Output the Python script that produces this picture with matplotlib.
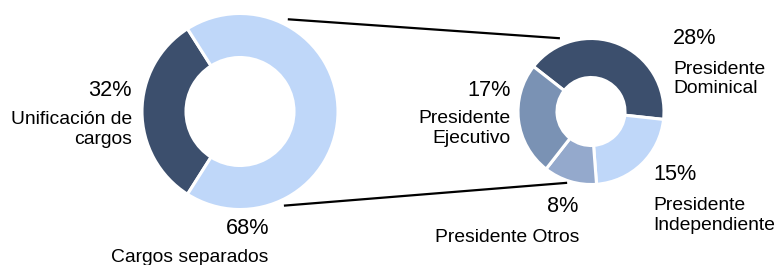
import numpy as np
import matplotlib
matplotlib.use("Agg")
import matplotlib.pyplot as plt

# ---- data ----
main_labels = ["Unificación de\ncargos", "Cargos separados"]
main_values = [32, 68]
main_colors = ["#3c4f6d", "#bfd7f9"]

sub_labels = ["Presidente\nDominical", "Presidente\nIndependiente", "Presidente Otros", "Presidente\nEjecutivo"]
sub_values = [28, 15, 8, 17]
sub_colors = ["#3c4f6d", "#bfd7f9", "#94a9cc", "#7a92b4"]

W, H = 777, 265
fig = plt.figure(figsize=(W / 100, H / 100), dpi=100)
ax = fig.add_axes([0, 0, 1, 1])
ax.set_xlim(0, W)
ax.set_ylim(0, H)
ax.set_aspect("equal")
ax.axis("off")

FONT = "Liberation Sans"

def Y(y):
    return H - y

# left donut
c1 = (240, Y(111.5))
r1 = 98
ax.pie(main_values, colors=main_colors, startangle=180 - main_values[0] * 1.8,
       counterclock=True, center=c1, radius=r1,
       wedgeprops=dict(width=44, edgecolor="white", linewidth=2.2))

# right donut
c2 = (591, Y(111.5))
r2 = 73
ax.pie(sub_values, colors=sub_colors, startangle=142, counterclock=False,
       center=c2, radius=r2,
       wedgeprops=dict(width=39, edgecolor="white", linewidth=2.2))

ax.set_xlim(0, W)
ax.set_ylim(0, H)

# connector lines
def pt(c, r, ang):
    a = np.deg2rad(ang)
    return c[0] + r * np.cos(a), c[1] + r * np.sin(a)

for a1, a2, k2 in [(62.6, 113, 1.09), (-65, -108.5, 1.03)]:
    x1, y1 = pt(c1, r1 * 1.06, a1)
    x2, y2 = pt(c2, r2 * k2, a2)
    ax.plot([x1, x2], [y1, y2], color="black", lw=1.6, solid_capstyle="butt")

PCT = 15.6
LAB = 13.9
LS = 1.2

def pct(v):
    return f"{v}%"

# left labels
ax.text(132, Y(90), pct(main_values[0]), ha="right", va="center", fontsize=PCT, family=FONT)
ax.text(132, Y(129.5), main_labels[0], ha="right", va="center", fontsize=LAB, family=FONT, linespacing=LS)
ax.text(248, Y(228), pct(main_values[1]), ha="center", va="center", fontsize=PCT, family=FONT)
ax.text(190, Y(257), main_labels[1], ha="center", va="center", fontsize=LAB, family=FONT)

# right labels
ax.text(673, Y(39), pct(sub_values[0]), ha="left", va="center", fontsize=PCT, family=FONT)
ax.text(673, Y(79), sub_labels[0], ha="left", va="center", fontsize=LAB, family=FONT, linespacing=LS)
ax.text(653, Y(175), pct(sub_values[1]), ha="left", va="center", fontsize=PCT, family=FONT)
ax.text(653, Y(215.5), sub_labels[1], ha="left", va="center", fontsize=LAB, family=FONT, linespacing=LS)
ax.text(563, Y(207), pct(sub_values[2]), ha="center", va="center", fontsize=PCT, family=FONT)
ax.text(507, Y(237), sub_labels[2], ha="center", va="center", fontsize=LAB, family=FONT)
ax.text(511, Y(90), pct(sub_values[3]), ha="right", va="center", fontsize=PCT, family=FONT)
ax.text(511, Y(128.5), sub_labels[3], ha="right", va="center", fontsize=LAB, family=FONT, linespacing=LS)

fig.savefig("out.png", dpi=100)
